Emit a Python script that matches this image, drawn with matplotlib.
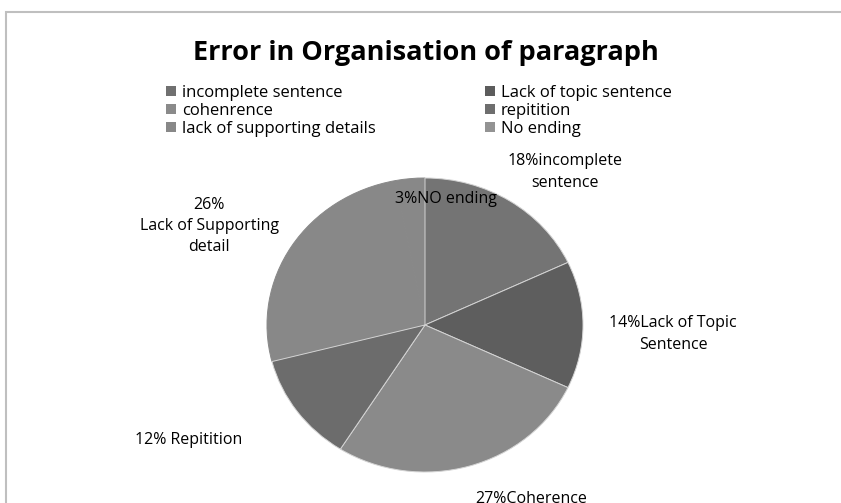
import matplotlib
matplotlib.use("Agg")
import matplotlib.pyplot as plt
from matplotlib.patches import Rectangle

categories = ["incomplete sentence", "Lack of topic sentence", "cohenrence",
              "repitition", "lack of supporting details", "No ending"]
values = [18, 14, 27, 12, 26, 3]
colors = ["#747474", "#5e5e5e", "#8a8a8a", "#6c6c6c", "#888888", "#888888"]
legend_colors = ["#707070", "#5c5c5c", "#8a8a8a", "#6e6e6e", "#888888", "#939393"]
slice_labels = ["18%incomplete\nsentence", "14%Lack of Topic\nSentence", "27%Coherence",
                "12% Repitition", "26%\nLack of Supporting\ndetail", "3%NO ending"]
title = "Error in Organisation of paragraph"

W, H = 841, 503
plt.rcParams['font.family'] = ['Open Sans', 'DejaVu Sans']
fig = plt.figure(figsize=(W / 100, H / 100), dpi=100)

def fx(px):
    return px / W

def fy(py):
    return 1 - py / H

# outer border
fig.patches.append(Rectangle((fx(6), fy(510)), fx(845) - fx(6), fy(12) - fy(510),
                             transform=fig.transFigure, fill=False,
                             edgecolor="#bfbfbf", linewidth=1.5))

# pie axes: center (425, 325), rx 158, ry 147
cx, cy, rx, ry = 425, 325, 158, 147
ax = fig.add_axes([fx(cx - rx), fy(cy + ry), 2 * rx / W, 2 * ry / H])
wedges, _ = ax.pie(values, colors=colors, startangle=90, counterclock=False,
                   wedgeprops=dict(edgecolor="#d4d4d4", linewidth=0.7))
for i in (4, 5):
    wedges[i].set_edgecolor(colors[i])
    wedges[i].set_zorder(0)
ax.set_xlim(-1, 1)
ax.set_ylim(-1, 1)
ax.set_aspect("auto")
ax.axis("off")

fig.text(fx(426), fy(60), title, ha="center", va="baseline",
         fontsize=19.5, fontweight="bold", color="black")

# legend: two columns, row-major order
fs_leg = 12
col_x = [166, 485]
for i, (name, c) in enumerate(zip(categories, legend_colors)):
    r, col = divmod(i, 2)
    yc = 91 + 18 * r
    x0 = col_x[col]
    fig.patches.append(Rectangle((fx(x0), fy(yc + 5)), 10 / W, 10 / H,
                                 transform=fig.transFigure, facecolor=c,
                                 edgecolor="none"))
    fig.text(fx(x0 + 16), fy(yc), name, ha="left", va="center_baseline",
             fontsize=fs_leg, color="black")

fs_lab = 11.5
label_pos = [(565, 172), (673, 334), (531, 499), (189, 440), (209, 226), (446, 199)]
for txt, (x, y) in zip(slice_labels, label_pos):
    fig.text(fx(x), fy(y), txt, ha="center", va="center", fontsize=fs_lab,
             linespacing=1.45, color="black")

fig.savefig("out.png", dpi=100)
